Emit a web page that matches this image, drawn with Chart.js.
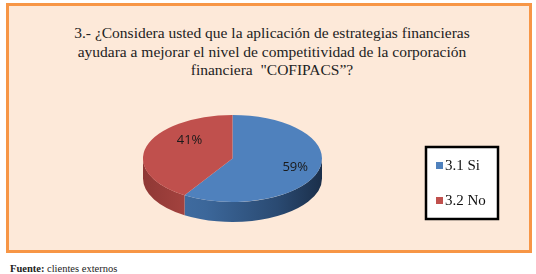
<!DOCTYPE html>
<html>
<head>
<meta charset="utf-8">
<script src="https://cdn.jsdelivr.net/npm/chart.js@4.4.0/dist/chart.umd.min.js"></script>
<style>
  html, body { margin:0; padding:0; background:#ffffff; width:536px; height:274px; overflow:hidden; }
  .serif { font-family: "Liberation Serif", "Times New Roman", serif; }
  #box { position:absolute; left:6px; top:3px; width:520px; height:244px; border:3px solid #F79646; background:#FDE9D9; }
  #title { position:absolute; left:0; top:24px; width:544px; text-align:center; font-size:15.5px; line-height:18.5px; color:#222; }
  #src { position:absolute; left:10px; top:264px; font-size:10.5px; line-height:10px; color:#222; white-space:nowrap; }
  #c { position:absolute; left:0; top:0; }
</style>
</head>
<body>
<div id="box"></div>
<div id="title" class="serif">3.- ¿Considera usted que la aplicación de estrategias financieras<br>ayudara a mejorar el nivel de competitividad de la corporación<br>financiera &nbsp;"COFIPACS”?</div>
<div id="src" class="serif"><b>Fuente:</b> clientes externos</div>
<canvas id="c" width="536" height="274"></canvas>
<script>
const categories = ["3.1 Si", "3.2 No"];
const values = [59, 41];
const valueLabels = ["59%", "41%"];
const colors = ["#4F81BD", "#C0504D"];

const K = 43.5 / 89.5;   // ellipse squash
const DEPTH = 20;
const SERIF = '"Liberation Serif", "Times New Roman", serif';
const labelFrac = [0.73, 0.5];
const labelLift = [0, -12];

const pie3d = {
  id: 'pie3d',
  beforeDatasetsDraw(chart) {
    const ctx = chart.ctx;
    const meta = chart.getDatasetMeta(0);
    const a0 = meta.data[0];
    const cx = a0.x, cy = a0.y, r = a0.outerRadius, ry = r * K;
    meta.data.forEach((arc, i) => {
      const s = arc.startAngle, e = arc.endAngle;
      const TWO = Math.PI * 2;
      for (let off = -TWO; off <= TWO; off += TWO) {
        const a1 = Math.max(s + off, 0), a2 = Math.min(e + off, Math.PI);
        if (a2 > a1) {
          const g = ctx.createLinearGradient(cx - r, 0, cx + r, 0);
          if (i === 0) {
            g.addColorStop(0, "#4472A8"); g.addColorStop(0.35, "#3C679A");
            g.addColorStop(0.75, "#2A4A72"); g.addColorStop(1, "#1B2F4A");
          } else {
            g.addColorStop(0, "#8F3835"); g.addColorStop(0.3, "#A94541"); g.addColorStop(1, "#A94541");
          }
          ctx.save();
          ctx.beginPath();
          ctx.ellipse(cx, cy, r, ry, 0, a1, a2, false);
          ctx.ellipse(cx, cy + DEPTH, r, ry, 0, a2, a1, true);
          ctx.closePath();
          ctx.fillStyle = g;
          ctx.fill();
          ctx.restore();
        }
      }
    });
    ctx.save();
    ctx.translate(cx, cy);
    ctx.scale(1, K);
    ctx.translate(-cx, -cy);
  },
  afterDatasetsDraw(chart) {
    const ctx = chart.ctx;
    ctx.restore();
    const meta = chart.getDatasetMeta(0);
    ctx.save();
    ctx.font = '13px "Open Sans", "Liberation Sans", sans-serif';
    ctx.fillStyle = "#1a1a1a";
    ctx.textAlign = "center";
    ctx.textBaseline = "middle";
    meta.data.forEach((arc, i) => {
      const mid = (arc.startAngle + arc.endAngle) / 2;
      const rr = arc.outerRadius * labelFrac[i];
      const x = arc.x + Math.cos(mid) * rr;
      const y = arc.y + Math.sin(mid) * rr * K + labelLift[i];
      ctx.fillText(valueLabels[i], x, y);
    });
    ctx.restore();
    // legend box
    ctx.save();
    const lx = 426, ly = 147, lw = 72, lh = 72;
    ctx.fillStyle = "#ffffff";
    ctx.fillRect(lx, ly, lw, lh);
    ctx.lineWidth = 2.5;
    ctx.strokeStyle = "#000000";
    ctx.strokeRect(lx, ly, lw, lh);
    ctx.font = '15px ' + SERIF;
    ctx.textBaseline = "middle";
    ctx.textAlign = "left";
    chart.data.labels.forEach((lab, i) => {
      const yy = ly + 19 + i * 35;
      ctx.fillStyle = colors[i];
      ctx.fillRect(lx + 10, yy - 4, 7, 7);
      ctx.fillStyle = "#111";
      ctx.fillText(lab, lx + 19, yy);
    });
    ctx.restore();
  }
};

new Chart(document.getElementById('c'), {
  type: 'pie',
  data: {
    labels: categories,
    datasets: [{
      data: values,
      backgroundColor: colors,
      borderWidth: 0,
      clip: false
    }]
  },
  options: {
    responsive: false,
    animation: false,
    layout: { padding: { left: 143, right: 214, top: 69, bottom: 26 } },
    plugins: { legend: { display: false }, tooltip: { enabled: false }, title: { display: false } }
  },
  plugins: [pie3d]
});
</script>
</body>
</html>
